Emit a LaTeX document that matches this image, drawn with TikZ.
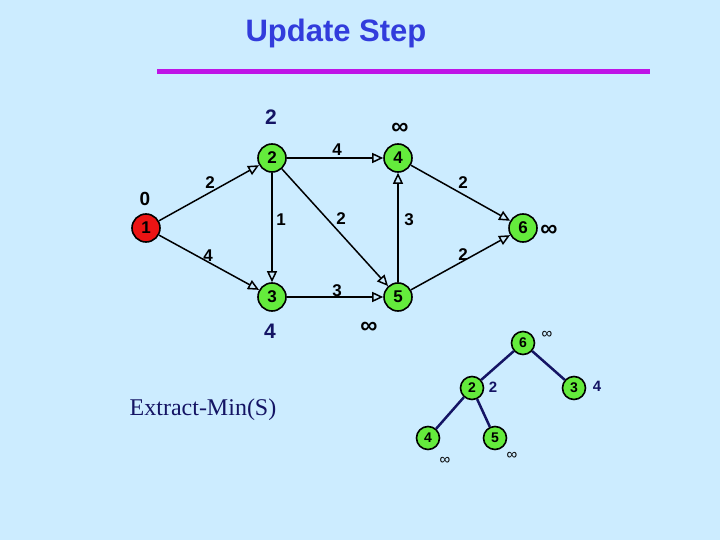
\documentclass[tikz,border=0pt]{standalone}
\usepackage{fontspec}
\setmainfont{Liberation Sans}
\newfontfamily\timesfont{Liberation Serif}
\usetikzlibrary{arrows.meta,positioning}
\definecolor{fond}{RGB}{204,236,255}
\definecolor{vert}{RGB}{100,235,60}
\definecolor{rouge}{RGB}{235,20,20}
\definecolor{titre}{RGB}{50,60,220}
\definecolor{violet}{RGB}{190,20,230}
\definecolor{marine}{RGB}{20,20,100}

\begin{document}
\begin{tikzpicture}[x=1pt,y=-1pt,
	sommet/.style={circle,draw=black,line width=1.6pt,fill=vert,minimum size=28pt,inner sep=0pt,font=\fontsize{17}{17}\selectfont\bfseries},
	tas/.style={sommet,minimum size=23pt,font=\fontsize{14}{14}\selectfont\bfseries},
	arc/.style={-{Triangle[open,length=11pt,width=10pt]},line width=1.5pt},
	poids/.style={font=\fontsize{17}{17}\selectfont\bfseries},
	dist/.style={font=\fontsize{19}{19}\selectfont\bfseries},
	infini/.style={font=\fontsize{24}{24}\selectfont\bfseries},
	petit/.style={font=\fontsize{15}{15}\selectfont}]
	
	\fill[fond] (0,0) rectangle (720,540);
	
	% titre
	\node[font=\fontsize{31}{31}\selectfont\bfseries,titre] (titre) at (336,33) {Update Step};
	\coordinate (ga) at (157,72);
	\coordinate (dr) at (650,72);
	\draw[violet,line width=5pt] (ga)--(dr);
	
	% graphe
	\node[sommet,fill=rouge] (n1) at (146,228) {1};
	\node[sommet] (n2) at (272,158) {2};
	\node[sommet] (n4) at (398,158) {4};
	\node[sommet] (n3) at (272,297) {3};
	\node[sommet] (n5) at (398,297) {5};
	\node[sommet] (n6) at (523,228) {6};
	
	\foreach \a/\b in {n1/n2,n1/n3,n2/n4,n2/n3,n2/n5,n5/n4,n4/n6,n5/n6,n3/n5}
	\draw[arc] (\a)--(\b);
	
	% poids
	\foreach \x/\y/\p [count=\i] in {210/183/2,208/256/4,337/150/4,281/220/1,341/219/2,409/220/3,463/183/2,463/255/2,337/291/3}
	\node[poids] (p\i) at (\x,\y) {\p};
	
	% distances
	\node[dist] (d1) at (145,199) {0};
	\node[dist,marine,font=\fontsize{21}{21}\selectfont\bfseries] (d2) at (271,117) {2};
	\node[infini] (d4) at (400,129) {∞};
	\node[infini] (d6) at (549,231) {∞};
	\node[dist,marine,font=\fontsize{21}{21}\selectfont\bfseries] (d3) at (270,331) {4};
	\node[infini] (d5) at (369,328) {∞};
	
	\node[font=\fontsize{24}{24}\selectfont\timesfont,marine] (em) at (203,410) {Extract-Min(S)};
	
	% tas
	\node[tas] (t6) at (523,343) {6};
	\node[tas] (t2) at (472,388) {2};
	\node[tas] (t3) at (574,388) {3};
	\node[tas] (t4) at (428,438) {4};
	\node[tas] (t5) at (495,438) {5};
	
	\foreach \a/\b in {t6/t2,t6/t3,t2/t4,t2/t5}
	\draw[marine,line width=2.5pt] (\a)--(\b);
	
	\node[petit] (c6) at (547,335) {∞};
	\node[marine,font=\fontsize{15}{15}\selectfont\bfseries] (c2) at (493,387) {2};
	\node[marine,font=\fontsize{15}{15}\selectfont\bfseries] (c3) at (597,386) {4};
	\node[petit] (c4) at (445,461) {∞};
	\node[petit] (c5) at (512,456) {∞};
	
\end{tikzpicture}
\end{document}
